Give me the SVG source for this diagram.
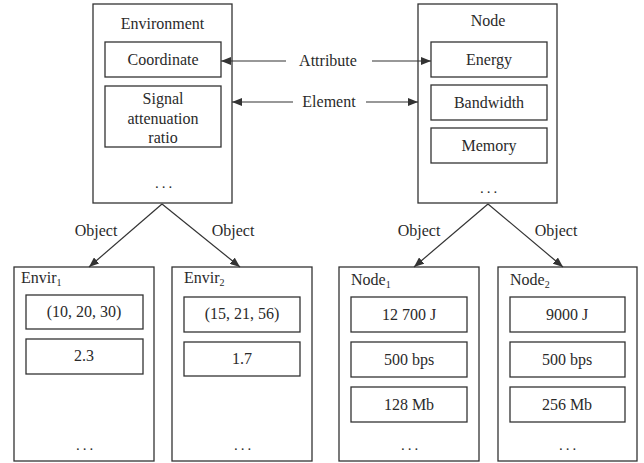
<svg xmlns="http://www.w3.org/2000/svg" width="644" height="463" viewBox="0 0 644 463">
<defs>
<marker id="ah" viewBox="0 0 10 8" refX="10" refY="4" markerWidth="10" markerHeight="8" markerUnits="userSpaceOnUse" orient="auto">
<path d="M0,0 L10,4 L0,8 Z" fill="#333"/>
</marker>
</defs>
<style>
rect{fill:#fff;stroke:#333;stroke-width:1.3}
text{font-family:'Liberation Serif','Times New Roman',Tinos,'Noto Serif','DejaVu Serif',serif;font-size:16px;fill:#2a2a2a;text-anchor:middle}
.l{text-anchor:start}
.d{letter-spacing:3px;font-size:15px}
.c line{stroke:#333;stroke-width:1.2;marker-end:url(#ah)}
.s{font-size:10px}
</style>
<rect x="0" y="0" width="644" height="463" style="fill:#fff;stroke:none"/>
<g id="environment">
<rect x="93" y="4" width="139" height="199"/>
<text x="162.5" y="29">Environment</text>
<rect x="105" y="42" width="116" height="35"/>
<text x="163" y="65">Coordinate</text>
<rect x="105" y="86" width="116" height="61"/>
<text x="163" y="104">Signal</text>
<text x="163" y="124">attenuation</text>
<text x="163" y="143">ratio</text>
<text class="d" x="165" y="188">...</text>
</g>
<g id="node">
<rect x="418" y="4" width="139" height="199"/>
<text x="488" y="26">Node</text>
<rect x="431" y="42" width="116" height="35"/>
<text x="489" y="65">Energy</text>
<rect x="431" y="85" width="116" height="35"/>
<text x="489" y="108">Bandwidth</text>
<rect x="431" y="128" width="116" height="35"/>
<text x="489" y="151">Memory</text>
<text class="d" x="490" y="193">...</text>
</g>
<g id="envir1">
<rect x="14" y="267" width="140" height="194"/>
<text class="l" x="21" y="283">Envir<tspan class="s" dy="3">1</tspan></text>
<rect x="26" y="295" width="117" height="34"/>
<text x="84" y="317">(10, 20, 30)</text>
<rect x="26" y="339" width="117" height="35"/>
<text x="84" y="361">2.3</text>
<text class="d" x="86" y="450">...</text>
</g>
<g id="envir2">
<rect x="172" y="267" width="140" height="194"/>
<text class="l" x="184" y="283">Envir<tspan class="s" dy="3">2</tspan></text>
<rect x="184" y="297" width="116" height="35"/>
<text x="242" y="319">(15, 21, 56)</text>
<rect x="184" y="342" width="116" height="34"/>
<text x="242" y="364">1.7</text>
<text class="d" x="244" y="450">...</text>
</g>
<g id="node1">
<rect x="339" y="267" width="140" height="194"/>
<text class="l" x="351" y="285">Node<tspan class="s" dy="3">1</tspan></text>
<rect x="351" y="297" width="116" height="35"/>
<text x="409" y="320">12 700 J</text>
<rect x="351" y="342" width="116" height="35"/>
<text x="409" y="365">500 bps</text>
<rect x="351" y="387" width="116" height="35"/>
<text x="409" y="410">128 Mb</text>
<text class="d" x="411" y="450">...</text>
</g>
<g id="node2">
<rect x="498" y="267" width="139" height="194"/>
<text class="l" x="510" y="285">Node<tspan class="s" dy="3">2</tspan></text>
<rect x="510" y="297" width="115" height="35"/>
<text x="567" y="320">9000 J</text>
<rect x="510" y="342" width="115" height="35"/>
<text x="567" y="365">500 bps</text>
<rect x="510" y="387" width="115" height="35"/>
<text x="567" y="410">256 Mb</text>
<text class="d" x="569" y="450">...</text>
</g>
<g id="connectors" class="c">
<line x1="286" y1="61" x2="221" y2="61"/>
<line x1="372" y1="61" x2="431" y2="61"/>
<line x1="293" y1="102" x2="232" y2="102"/>
<line x1="366" y1="102" x2="418" y2="102"/>
<line x1="162" y1="204" x2="89" y2="267"/>
<line x1="162" y1="204" x2="240" y2="267"/>
<line x1="488" y1="204" x2="414" y2="267"/>
<line x1="488" y1="204" x2="563" y2="267"/>
<text x="328" y="66">Attribute</text>
<text x="329" y="107">Element</text>
<text x="96" y="236">Object</text>
<text x="233" y="236">Object</text>
<text x="419" y="236">Object</text>
<text x="556" y="236">Object</text>
</g>
</svg>
